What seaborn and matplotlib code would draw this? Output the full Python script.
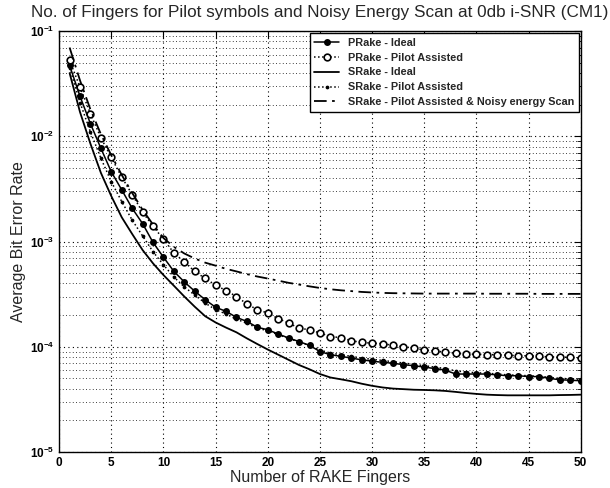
import numpy as np
import pandas as pd
import seaborn as sns
import matplotlib
matplotlib.use("Agg")
import matplotlib.pyplot as plt
from matplotlib.ticker import LogLocator, FixedLocator, NullFormatter

fingers = list(range(1, 51))

prake_ideal = [0.0473, 0.024, 0.0132, 0.0077, 0.0046, 0.0031, 0.00207, 0.00148, 0.00098, 0.00071,
               5.2e-4, 4.13e-4, 3.37e-4, 2.8e-4, 2.37e-4, 2.17e-4, 1.9e-4, 1.74e-4, 1.53e-4, 1.45e-4,
               1.32e-4, 1.21e-4, 1.12e-4, 1.03e-4, 9.0e-5, 8.4e-5, 8.1e-5, 7.8e-5, 7.5e-5, 7.3e-5,
               7.1e-5, 6.97e-5, 6.75e-5, 6.6e-5, 6.4e-5, 6.2e-5, 6.0e-5, 5.5e-5, 5.5e-5, 5.5e-5,
               5.5e-5, 5.4e-5, 5.3e-5, 5.3e-5, 5.2e-5, 5.2e-5, 5.0e-5, 4.85e-5, 4.8e-5, 4.75e-5]

prake_pilot = [0.0528, 0.0294, 0.0164, 0.0097, 0.0063, 0.0041, 0.0028, 0.0019, 0.0014, 0.00105,
               7.8e-4, 6.4e-4, 5.2e-4, 4.46e-4, 3.85e-4, 3.42e-4, 3.0e-4, 2.55e-4, 2.25e-4, 2.09e-4,
               1.85e-4, 1.68e-4, 1.5e-4, 1.45e-4, 1.35e-4, 1.25e-4, 1.22e-4, 1.14e-4, 1.1e-4, 1.08e-4,
               1.07e-4, 1.03e-4, 1.0e-4, 9.7e-5, 9.3e-5, 9.1e-5, 8.9e-5, 8.7e-5, 8.5e-5, 8.5e-5,
               8.4e-5, 8.4e-5, 8.3e-5, 8.2e-5, 8.2e-5, 8.1e-5, 8.0e-5, 8.0e-5, 7.9e-5, 7.8e-5]

srake_ideal = [0.040, 0.017, 0.0085, 0.0045, 0.0027, 0.0017, 0.00118, 8.3e-4, 6.2e-4, 4.8e-4,
               3.8e-4, 3.0e-4, 2.4e-4, 1.95e-4, 1.7e-4, 1.52e-4, 1.37e-4, 1.2e-4, 1.06e-4, 9.4e-5,
               8.4e-5, 7.5e-5, 6.7e-5, 6.1e-5, 5.5e-5, 5.1e-5, 4.9e-5, 4.7e-5, 4.45e-5, 4.25e-5,
               4.1e-5, 4.0e-5, 3.95e-5, 3.9e-5, 3.88e-5, 3.85e-5, 3.8e-5, 3.72e-5, 3.63e-5, 3.56e-5,
               3.5e-5, 3.47e-5, 3.45e-5, 3.45e-5, 3.45e-5, 3.45e-5, 3.45e-5, 3.47e-5, 3.48e-5, 3.5e-5]

srake_pilot = [0.045, 0.021, 0.011, 0.0062, 0.0037, 0.0024, 0.0016, 0.00113, 8.0e-4, 6.0e-4,
               4.6e-4, 3.7e-4, 3.1e-4, 2.6e-4, 2.25e-4, 2.05e-4, 1.82e-4, 1.68e-4, 1.5e-4, 1.42e-4,
               1.3e-4, 1.2e-4, 1.11e-4, 1.03e-4, 9.3e-5, 8.7e-5, 8.4e-5, 8.1e-5, 7.8e-5, 7.6e-5,
               7.4e-5, 7.2e-5, 7.0e-5, 6.8e-5, 6.6e-5, 6.4e-5, 6.2e-5, 5.9e-5, 5.75e-5, 5.65e-5,
               5.6e-5, 5.5e-5, 5.4e-5, 5.35e-5, 5.3e-5, 5.25e-5, 5.1e-5, 5.0e-5, 4.95e-5, 4.9e-5]

srake_noisy = [0.07, 0.034, 0.018, 0.0105, 0.0066, 0.0043, 0.0029, 0.002, 0.00145, 0.00108,
               8.9e-4, 7.7e-4, 6.9e-4, 6.3e-4, 5.9e-4, 5.5e-4, 5.2e-4, 4.9e-4, 4.65e-4, 4.45e-4,
               4.25e-4, 4.05e-4, 3.9e-4, 3.75e-4, 3.62e-4, 3.52e-4, 3.44e-4, 3.38e-4, 3.32e-4, 3.28e-4,
               3.25e-4, 3.23e-4, 3.22e-4, 3.21e-4, 3.2e-4, 3.2e-4, 3.2e-4, 3.2e-4, 3.2e-4, 3.2e-4,
               3.19e-4, 3.19e-4, 3.19e-4, 3.19e-4, 3.19e-4, 3.18e-4, 3.18e-4, 3.18e-4, 3.18e-4, 3.18e-4]

labels = ["PRake - Ideal", "PRake - Pilot Assisted", "SRake - Ideal",
          "SRake - Pilot Assisted", "SRake - Pilot Assisted & Noisy energy Scan"]

sns.set_style("white")
plt.rcParams['font.family'] = ['Liberation Sans', 'DejaVu Sans']

fig = plt.figure(figsize=(6.1, 4.88), dpi=100)
ax = fig.add_axes([0.097, 0.074, 0.855, 0.862])

styles = [
    dict(data=prake_ideal, ls='-', marker='o', mfc='black', ms=3.8, lw=1.1),
    dict(data=prake_pilot, ls=':', marker='o', mfc='white', ms=4.8, lw=1.1),
    dict(data=srake_ideal, ls='-', marker=None, mfc='black', ms=0, lw=1.3),
    dict(data=srake_pilot, ls=':', marker='.', mfc='black', ms=3.0, lw=1.1),
    dict(data=srake_noisy, ls=(0, (7, 3, 1.5, 3)), marker=None, mfc='black', ms=0, lw=1.3),
]

for lab, st in zip(labels, styles):
    df = pd.DataFrame({"x": fingers, "y": st["data"]})
    kw = dict(color='black', linewidth=st["lw"], linestyle=st["ls"], label=lab)
    if st["marker"]:
        kw.update(marker=st["marker"], markersize=st["ms"], markerfacecolor=st["mfc"],
                  markeredgecolor='black', markeredgewidth=1.2)
    sns.lineplot(data=df, x="x", y="y", ax=ax, **kw)

ax.set_yscale('log')
ax.set_xlim(0, 50)
ax.set_ylim(1e-5, 1e-1)
ax.xaxis.set_major_locator(FixedLocator(list(range(0, 51, 5))))
ax.yaxis.set_major_locator(LogLocator(base=10, numticks=10))
ax.yaxis.set_minor_locator(LogLocator(base=10, subs=np.arange(2, 10), numticks=20))
ax.yaxis.set_minor_formatter(NullFormatter())

ax.grid(True, which='major', axis='both', color='black', linestyle=(0, (1, 3)), linewidth=0.8)
ax.grid(True, which='minor', axis='y', color='black', linestyle=(0, (1, 3)), linewidth=0.6)

ax.tick_params(which='both', direction='in', top=True, right=True, colors='black')
ax.tick_params(which='major', length=5, labelsize=8.5)
ax.tick_params(which='minor', length=3)
for lbl in ax.get_xticklabels() + ax.get_yticklabels():
    lbl.set_fontweight('bold')

for sp in ax.spines.values():
    sp.set_color('black')
    sp.set_linewidth(1.0)

ax.set_title("No. of Fingers for Pilot symbols and Noisy Energy Scan at 0db i-SNR (CM1)",
             fontsize=12.3, pad=10)
ax.set_xlabel("Number of RAKE Fingers", fontsize=11.5, labelpad=1)
ax.set_ylabel("Average Bit Error Rate", fontsize=11.5, labelpad=3)

leg = ax.legend(loc='upper right', fontsize=7.8, frameon=True, fancybox=False,
                edgecolor='black', framealpha=1, borderaxespad=0.2, handlelength=2.3,
                labelspacing=0.45, borderpad=0.4)
leg.get_frame().set_linewidth(1.0)
for t in leg.get_texts():
    t.set_fontweight('bold')

fig.savefig("out.png", dpi=100)
